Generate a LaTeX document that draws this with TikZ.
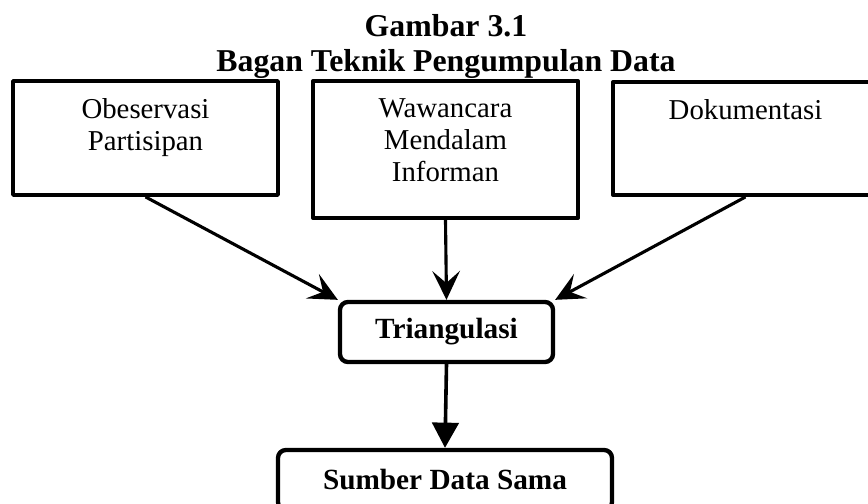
\documentclass[tikz,border=0pt]{standalone}
\usepackage{fontspec}
\setmainfont{Liberation Serif}
\usetikzlibrary{arrows.meta,positioning}

\begin{document}
\begin{tikzpicture}[x=0.4167pt,y=-0.4167pt,line join=round,
  kotak/.style={draw,line width=1.6pt,inner sep=0pt},
  isi/.style={inner sep=0pt,align=center,font=\fontsize{12}{13.3}\selectfont},
  hasil/.style={draw,line width=1.8pt,rounded corners=3.3pt,minimum height=25pt,font=\fontsize{12.2}{14}\selectfont\bfseries},
  panah/.style={line width=1.3pt,-{Stealth[length=12pt,width=11.5pt,inset=5pt]}}]
\useasboundingbox (0,0) rectangle (868,504);
\clip (0,0) rectangle (868,504);
% judul
\node[anchor=north,inner sep=0pt,align=center,font=\fontsize{13.25}{14.6}\selectfont\bfseries] (judul) at (446,14) {Gambar 3.1\\Bagan Teknik Pengumpulan Data};
% kotak teknik
\node[kotak,minimum width=110.4pt,minimum height=47.5pt] (obs) at (145.5,138) {};
\node[kotak,minimum width=110.4pt,minimum height=57.1pt] (wwc) at (445.5,149.5) {};
\node[kotak,minimum width=110.4pt,minimum height=47.1pt] (dok) at (745.5,138.5) {};
\foreach \k/\t in {obs/{Obeservasi\\Partisipan},wwc/{Wawancara\\Mendalam\\Informan},dok/Dokumentasi}
  \node[isi,below=7.9pt of \k.north] (\k-teks) {\t};
% triangulasi dan hasil
\node[hasil,minimum width=88.75pt] (tri) at (446.5,332) {Triangulasi};
\node[hasil,minimum width=139.2pt] (sama) at (445,480) {Sumber Data Sama};
\draw[panah] (obs.south) -- (tri.north west);
\draw[panah] (wwc.south) -- (tri.north);
\draw[panah] (dok.south) -- (tri.north east);
\draw[line width=1.5pt,-{Triangle[length=10.5pt,width=11pt]}] (tri.south) -- (sama.north);
\end{tikzpicture}
\end{document}
